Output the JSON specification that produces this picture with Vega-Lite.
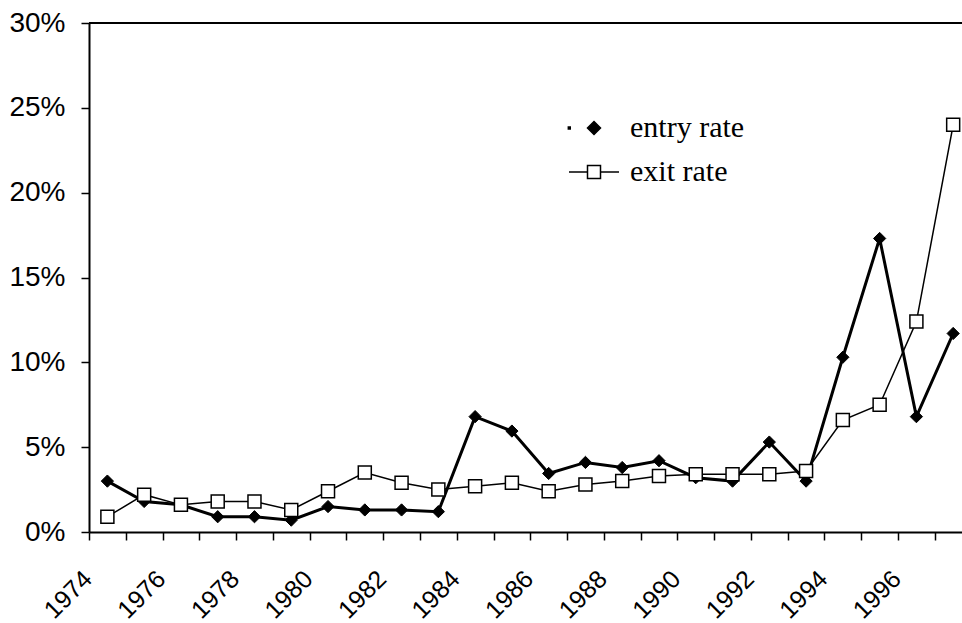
{
  "$schema": "https://vega.github.io/schema/vega-lite/v6.json",
  "width": 873,
  "height": 509,
  "autosize": "none",
  "padding": {"left": 89, "top": 23, "right": 0, "bottom": 91},
  "background": "white",
  "config": {
    "view": {"stroke": null},
    "font": "Liberation Sans"
  },
  "data": {
    "values": [
      {"year": 1974, "series": "entry rate", "value": 0.030},
      {"year": 1975, "series": "entry rate", "value": 0.018},
      {"year": 1976, "series": "entry rate", "value": 0.016},
      {"year": 1977, "series": "entry rate", "value": 0.009},
      {"year": 1978, "series": "entry rate", "value": 0.009},
      {"year": 1979, "series": "entry rate", "value": 0.007},
      {"year": 1980, "series": "entry rate", "value": 0.015},
      {"year": 1981, "series": "entry rate", "value": 0.013},
      {"year": 1982, "series": "entry rate", "value": 0.013},
      {"year": 1983, "series": "entry rate", "value": 0.012},
      {"year": 1984, "series": "entry rate", "value": 0.068},
      {"year": 1985, "series": "entry rate", "value": 0.0595},
      {"year": 1986, "series": "entry rate", "value": 0.0345},
      {"year": 1987, "series": "entry rate", "value": 0.041},
      {"year": 1988, "series": "entry rate", "value": 0.038},
      {"year": 1989, "series": "entry rate", "value": 0.042},
      {"year": 1990, "series": "entry rate", "value": 0.032},
      {"year": 1991, "series": "entry rate", "value": 0.030},
      {"year": 1992, "series": "entry rate", "value": 0.053},
      {"year": 1993, "series": "entry rate", "value": 0.030},
      {"year": 1994, "series": "entry rate", "value": 0.103},
      {"year": 1995, "series": "entry rate", "value": 0.173},
      {"year": 1996, "series": "entry rate", "value": 0.068},
      {"year": 1997, "series": "entry rate", "value": 0.117},
      {"year": 1974, "series": "exit rate", "value": 0.009},
      {"year": 1975, "series": "exit rate", "value": 0.022},
      {"year": 1976, "series": "exit rate", "value": 0.016},
      {"year": 1977, "series": "exit rate", "value": 0.018},
      {"year": 1978, "series": "exit rate", "value": 0.018},
      {"year": 1979, "series": "exit rate", "value": 0.013},
      {"year": 1980, "series": "exit rate", "value": 0.024},
      {"year": 1981, "series": "exit rate", "value": 0.035},
      {"year": 1982, "series": "exit rate", "value": 0.029},
      {"year": 1983, "series": "exit rate", "value": 0.025},
      {"year": 1984, "series": "exit rate", "value": 0.027},
      {"year": 1985, "series": "exit rate", "value": 0.029},
      {"year": 1986, "series": "exit rate", "value": 0.024},
      {"year": 1987, "series": "exit rate", "value": 0.028},
      {"year": 1988, "series": "exit rate", "value": 0.030},
      {"year": 1989, "series": "exit rate", "value": 0.033},
      {"year": 1990, "series": "exit rate", "value": 0.034},
      {"year": 1991, "series": "exit rate", "value": 0.034},
      {"year": 1992, "series": "exit rate", "value": 0.034},
      {"year": 1993, "series": "exit rate", "value": 0.036},
      {"year": 1994, "series": "exit rate", "value": 0.066},
      {"year": 1995, "series": "exit rate", "value": 0.075},
      {"year": 1996, "series": "exit rate", "value": 0.124},
      {"year": 1997, "series": "exit rate", "value": 0.240}
    ]
  },
  "encoding": {
    "x": {
      "field": "year",
      "type": "quantitative",
      "scale": {"domain": [1973.5, 1997.24], "nice": false, "zero": false},
      "axis": {
        "title": null,
        "values": [1973.5, 1974.5, 1975.5, 1976.5, 1977.5, 1978.5, 1979.5, 1980.5, 1981.5, 1982.5, 1983.5, 1984.5, 1985.5, 1986.5, 1987.5, 1988.5, 1989.5, 1990.5, 1991.5, 1992.5, 1993.5, 1994.5, 1995.5, 1996.5],
        "labelExpr": "(datum.value - 1973.5) % 2 === 0 ? format(datum.value + 0.5, 'd') : ''",
        "labelAngle": -45,
        "labelAlign": "right",
        "labelBaseline": "top",
        "labelOffset": -10,
        "labelPadding": 26,
        "labelFontSize": 25,
        "labelFont": "Liberation Sans",
        "labelColor": "black",
        "labelOverlap": false,
        "labelBound": false,
        "labelFlush": false,
        "tickSize": 8,
        "tickColor": "black",
        "tickWidth": 1.5,
        "domainColor": "black",
        "domainWidth": 2,
        "grid": false
      }
    },
    "y": {
      "field": "value",
      "type": "quantitative",
      "scale": {"domain": [0, 0.3], "nice": false},
      "axis": {
        "title": null,
        "values": [0, 0.05, 0.1, 0.15, 0.2, 0.25, 0.3],
        "format": ".0%",
        "labelFontSize": 28,
        "labelFont": "Liberation Sans",
        "labelColor": "black",
        "labelPadding": 16,
        "tickSize": 8,
        "tickColor": "black",
        "tickWidth": 1.5,
        "domainColor": "black",
        "domainWidth": 2,
        "grid": false
      }
    }
  },
  "layer": [
    {
      "mark": {"type": "rule", "color": "black", "strokeWidth": 2},
      "encoding": {"y": {"datum": 0.3}, "x": null}
    },
    {
      "transform": [{"filter": "datum.series === 'entry rate'"}],
      "mark": {"type": "line", "color": "black", "strokeWidth": 3}
    },
    {
      "transform": [{"filter": "datum.series === 'entry rate'"}],
      "mark": {"type": "point", "shape": "diamond", "filled": true, "color": "black", "fill": "black", "stroke": "black", "strokeWidth": 1, "opacity": 1, "size": 150}
    },
    {
      "transform": [{"filter": "datum.series === 'exit rate'"}],
      "mark": {"type": "line", "color": "black", "strokeWidth": 1.5}
    },
    {
      "transform": [{"filter": "datum.series === 'exit rate'"}],
      "mark": {"type": "point", "shape": "square", "filled": true, "fill": "white", "stroke": "black", "strokeWidth": 1.5, "opacity": 1, "size": 169}
    },
    {
      "transform": [{"filter": "false"}],
      "mark": {"type": "point", "filled": true, "strokeWidth": 1.5, "opacity": 1, "size": 169},
      "encoding": {
        "shape": {
          "field": "series",
          "type": "nominal",
          "scale": {"domain": ["entry rate", "exit rate"], "range": ["M-3.95,-0.15H-3.65V0.15H-3.95ZM0,-1L1,0L0,1L-1,0Z", "M-3.85,0H-1M1,0H3.85M-1,-1H1V1H-1Z"]},
          "legend": {
            "title": null,
            "orient": "none",
            "legendX": 490,
            "legendY": 90,
            "padding": 0,
            "symbolSize": 169,
            "symbolStrokeWidth": 1.5,
            "labelFont": "Liberation Serif",
            "labelFontSize": 30,
            "labelColor": "black",
            "labelOffset": 21,
            "labelLimit": 0,
            "rowPadding": 14
          }
        },
        "fill": {
          "field": "series",
          "type": "nominal",
          "scale": {"domain": ["entry rate", "exit rate"], "range": ["black", "white"]},
          "legend": {
            "title": null,
            "orient": "none",
            "legendX": 490,
            "legendY": 90,
            "padding": 0,
            "symbolSize": 169,
            "symbolStrokeWidth": 1.5,
            "labelFont": "Liberation Serif",
            "labelFontSize": 30,
            "labelColor": "black",
            "labelOffset": 21,
            "labelLimit": 0,
            "rowPadding": 14
          }
        },
        "stroke": {
          "field": "series",
          "type": "nominal",
          "scale": {"domain": ["entry rate", "exit rate"], "range": ["black", "black"]},
          "legend": {
            "title": null,
            "orient": "none",
            "legendX": 490,
            "legendY": 90,
            "padding": 0,
            "symbolSize": 169,
            "symbolStrokeWidth": 1.5,
            "labelFont": "Liberation Serif",
            "labelFontSize": 30,
            "labelColor": "black",
            "labelOffset": 21,
            "labelLimit": 0,
            "rowPadding": 14
          }
        }
      }
    }
  ]
}
